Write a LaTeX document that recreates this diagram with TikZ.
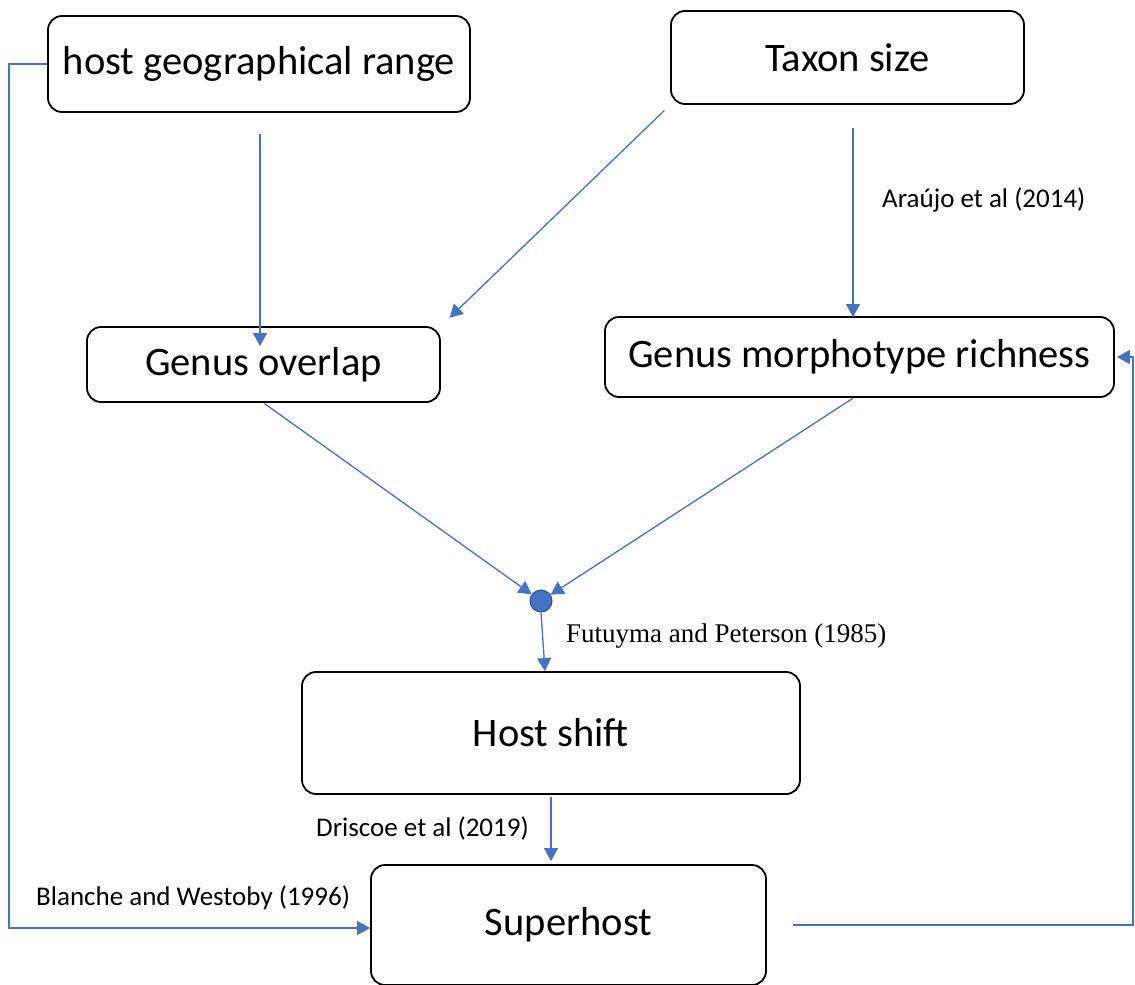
\documentclass[tikz,border=0pt]{standalone}
\usepackage{fontspec}
\setmainfont{Carlito}
\newfontfamily\timesfont{Liberation Serif}
\usetikzlibrary{arrows.meta}
\definecolor{lineblue}{RGB}{68,114,196}
\begin{document}
\begin{tikzpicture}[x=1pt,y=-1pt,
  box/.style={draw=black,line width=1.8pt,rounded corners=14pt,inner sep=0pt,font=\fontsize{40.5}{44}\selectfont},
  arr/.style={draw=lineblue,line width=1.3pt,-{Triangle[length=13pt,width=14pt]}},
  lbl/.style={inner sep=0pt,anchor=west,font=\fontsize{27}{30}\selectfont}]
\useasboundingbox (0,0) rectangle (1135,985);
\node[box,minimum width=422pt,minimum height=96pt] (hgr) at (259,64) {host geographical range};
\node[box,minimum width=353pt,minimum height=93pt] (taxon) at (847.5,57.5) {Taxon size};
\node[box,minimum width=353pt,minimum height=75pt] (overlap) at (263.5,364.5) {Genus overlap};
\node[box,minimum width=509pt,minimum height=80pt] (rich) at (859.5,357) {Genus morphotype richness};
\node[circle,draw=lineblue!70!black,line width=1pt,fill=lineblue,minimum size=22pt,inner sep=0pt] (dot) at (541,601) {};
\node[box,minimum width=498pt,minimum height=122pt] (hs) at (551,733) {Host shift};
\node[box,minimum width=395pt,minimum height=120pt] (super) at (568.5,925) {Superhost};
\node[lbl] (l1) at (882,200) {Araújo et al (2014)};
\node[lbl,font=\timesfont\fontsize{27}{30}\selectfont] (l2) at (566,636) {Futuyma and Peterson (1985)};
\node[lbl] (l3) at (316,828) {Driscoe et al (2019)};
\node[lbl] (l4) at (36,898) {Blanche and Westoby (1996)};
\coordinate (rc) at (1133,357);
\draw[arr] ([xshift=1pt,yshift=-21pt]hgr.south) -- ([xshift=-3.5pt,yshift=-20pt]overlap.north);
\draw[arr,shorten <=8pt,shorten >=12pt] (taxon.south west) -- (overlap.north east);
\draw[arr] ([xshift=5.5pt,yshift=-23pt]taxon.south) -- ([xshift=-6.5pt,yshift=-1pt]rich.north);
\draw[arr,shorten <=1pt] (overlap.south) -- (dot);
\draw[arr,shorten <=1pt] ([xshift=-6pt]rich.south) -- (dot);
\draw[arr] (dot.south) -- ([xshift=-6pt]hs.north);
\draw[arr,shorten <=2pt,shorten >=3pt] (hs.south) -- (hs.south |- super.north);
\draw[arr] (hgr.west) -- ++(-38,0) |- ([yshift=-3pt]super.west);
\draw[arr,shorten <=26pt] (super.east) -| (rc) -- ([xshift=2pt]rich.east);
\end{tikzpicture}
\end{document}
